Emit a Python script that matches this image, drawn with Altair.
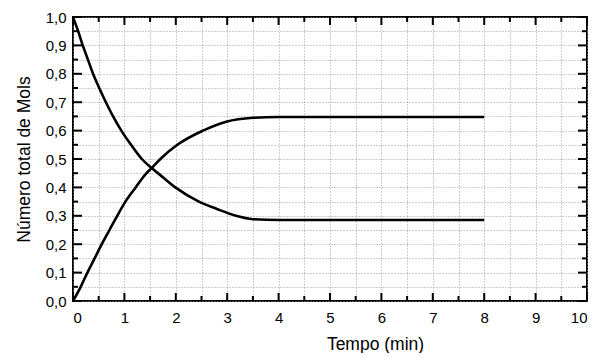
import altair as alt
import pandas as pd

# Data
t_dec = [0, 0.1, 0.19, 0.29, 0.39, 0.51, 0.64, 0.78, 0.94, 1.13, 1.34, 1.53, 1.64, 1.99, 2.45, 2.79, 3.17, 3.5, 4.0, 5, 6, 7, 8]
v_dec = [1.0, 0.95, 0.9, 0.85, 0.8, 0.75, 0.7, 0.65, 0.6, 0.55, 0.5, 0.468, 0.452, 0.4, 0.35, 0.325, 0.3, 0.288, 0.285, 0.285, 0.285, 0.285, 0.285]
t_inc = [0, 0.15, 0.28, 0.42, 0.56, 0.71, 0.86, 1.02, 1.22, 1.43, 1.53, 1.70, 2.03, 2.53, 2.79, 2.98, 3.5, 4.0, 5, 6, 7, 8]
v_inc = [0, 0.05, 0.1, 0.15, 0.2, 0.25, 0.3, 0.35, 0.4, 0.45, 0.468, 0.5, 0.55, 0.6, 0.62, 0.631, 0.645, 0.648, 0.648, 0.648, 0.648, 0.648]

x_major = list(range(0, 11))
x_minor = [i + 0.5 for i in range(0, 10)]
y_major = [round(i * 0.1, 2) for i in range(0, 11)]
y_minor = [round(i * 0.1 + 0.05, 2) for i in range(0, 10)]

W, H = 514, 284

df = pd.DataFrame(
    {"t": t_dec + t_inc, "v": v_dec + v_inc,
     "s": ["A"] * len(t_dec) + ["B"] * len(t_inc)}
)

xgrid = [i * 0.5 for i in range(0, 21)]
ygrid = [round(i * 0.05, 2) for i in range(0, 21)]

xs = alt.Scale(domain=[0, 10], nice=False)
ys = alt.Scale(domain=[0, 1], nice=False)

x_axis = alt.Axis(
    values=xgrid, ticks=False, domain=False, grid=True,
    gridColor="#9a9a9a", gridDash=[1, 2], gridWidth=1,
    labelExpr="datum.value % 1 == 0 ? format(datum.value, 'd') : ''",
    labelFontSize=15, labelFont="Liberation Sans", labelColor="#000",
    labelPadding=9, title="Tempo (min)", titleFontSize=17.5,
    titleFont="Liberation Sans", titleFontWeight="normal", titleColor="#000",
    titlePadding=10, titleX=302,
)
y_axis = alt.Axis(
    values=ygrid, ticks=False, domain=False, grid=True,
    gridColor="#9a9a9a", gridDash=[1, 2], gridWidth=1,
    labelExpr="round(datum.value*100) % 10 == 0 ? replace(format(datum.value, '.1f'), '.', ',') : ''",
    labelFontSize=15, labelFont="Liberation Sans", labelColor="#000",
    labelPadding=7, title="Número total de Mols", titleFontSize=17.5,
    titleFont="Liberation Sans", titleFontWeight="normal", titleColor="#000",
    titlePadding=12,
)

X = lambda: alt.X("t:Q", scale=xs, axis=x_axis)
Y = lambda: alt.Y("v:Q", scale=ys, axis=y_axis)

lines = alt.Chart(df).mark_line(color="black", strokeWidth=2.6, interpolate="monotone").encode(
    x=X(), y=Y(), detail="s:N",
)

dxM = pd.DataFrame({"t": x_major})
dxm = pd.DataFrame({"t": x_minor})
dyM = pd.DataFrame({"v": y_major})
dym = pd.DataFrame({"v": y_minor})

def xt(d, y1, y2):
    return alt.Chart(d).mark_rule(color="black", strokeWidth=2).encode(
        x=X(), y=alt.value(y1), y2=alt.value(y2))

def yt(d, x1, x2):
    return alt.Chart(d).mark_rule(color="black", strokeWidth=2).encode(
        y=Y(), x=alt.value(x1), x2=alt.value(x2))

ticks = [
    xt(dxM, H, H - 8), xt(dxm, H, H - 5), xt(dxM, 0, 8), xt(dxm, 0, 5),
    yt(dyM, 0, 9), yt(dym, 0, 5), yt(dyM, W, W - 9), yt(dym, W, W - 5),
]

chart = alt.layer(lines, *ticks).properties(
    width=W, height=H,
    autosize=alt.AutoSizeParams(type="none"),
    padding={"left": 65, "top": 9, "right": 8, "bottom": 52},
).configure_view(stroke="black", strokeWidth=2)

chart.save("out.html", embed_options={"renderer": "svg", "actions": False})
